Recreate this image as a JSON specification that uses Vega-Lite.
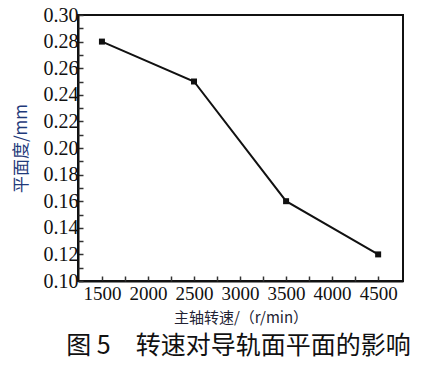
{
  "$schema": "https://vega.github.io/schema/vega-lite/v6.json",
  "width": 325,
  "height": 266,
  "autosize": {"type": "none"},
  "padding": {"left": 78, "top": 15, "right": 32, "bottom": 85},
  "background": "white",
  "data": {"values": [
    {"speed": 1500, "flatness": 0.28},
    {"speed": 2500, "flatness": 0.25},
    {"speed": 3500, "flatness": 0.16},
    {"speed": 4500, "flatness": 0.12}
  ]},
  "title": {
    "text": "图 5\u3000转速对导轨面平面的影响",
    "orient": "bottom",
    "anchor": "middle",
    "offset": 9,
    "font": "Noto Sans CJK SC",
    "fontSize": 25,
    "fontWeight": "normal",
    "color": "#111111",
    "dx": -2
  },
  "config": {
    "view": {"stroke": "#111111", "strokeWidth": 2},
    "axis": {
      "grid": false,
      "domainColor": "#111111",
      "domainWidth": 2,
      "tickColor": "#333333",
      "tickWidth": 1.5
    }
  },
  "layer": [
    {
      "mark": {"type": "line", "color": "#111111", "strokeWidth": 2},
      "encoding": {
        "x": {
          "field": "speed",
          "type": "quantitative",
          "scale": {"domain": [1240, 4770], "nice": false, "zero": false},
          "axis": {
            "orient": "bottom",
            "values": [1500, 2000, 2500, 3000, 3500, 4000, 4500],
            "format": "d",
            "tickSize": -5,
            "labelFont": "Liberation Serif",
            "labelFontSize": 19,
            "labelColor": "#111111",
            "labelPadding": 8,
            "labelFlush": false,
            "labelOverlap": false,
            "title": "主轴转速/（r/min）",
            "titleFont": "Noto Sans CJK SC",
            "titleFontSize": 15,
            "titleFontWeight": "normal",
            "titleColor": "#222233",
            "titlePadding": 7
          }
        },
        "y": {
          "field": "flatness",
          "type": "quantitative",
          "scale": {"domain": [0.1, 0.3], "nice": false, "zero": false},
          "axis": {
            "orient": "left",
            "values": [0.10, 0.12, 0.14, 0.16, 0.18, 0.20, 0.22, 0.24, 0.26, 0.28, 0.30],
            "format": ".2f",
            "tickSize": -5,
            "labelFont": "Liberation Serif",
            "labelFontSize": 20,
            "labelColor": "#111111",
            "labelPadding": 5,
            "labelFlush": false,
            "labelOverlap": false,
            "title": "平面度/mm",
            "titleFont": "Noto Sans CJK SC",
            "titleFontSize": 17,
            "titleFontWeight": "normal",
            "titleColor": "#1f3a7a",
            "titlePadding": 13
          }
        }
      }
    },
    {
      "mark": {"type": "point", "shape": "square", "filled": true, "size": 36, "color": "#111111", "opacity": 1},
      "encoding": {
        "x": {
          "field": "speed",
          "type": "quantitative",
          "scale": {"domain": [1240, 4770], "nice": false, "zero": false},
          "axis": {
            "orient": "bottom",
            "values": [1750, 2250, 2750, 3250, 3750, 4250],
            "labels": false,
            "domain": false,
            "tickSize": -5,
            "title": null
          }
        },
        "y": {
          "field": "flatness",
          "type": "quantitative",
          "scale": {"domain": [0.1, 0.3], "nice": false, "zero": false},
          "axis": {
            "orient": "left",
            "values": [0.11, 0.13, 0.15, 0.17, 0.19, 0.21, 0.23, 0.25, 0.27, 0.29],
            "labels": false,
            "domain": false,
            "tickSize": -5,
            "title": null
          }
        }
      }
    }
  ],
  "resolve": {"axis": {"x": "independent", "y": "independent"}}
}
